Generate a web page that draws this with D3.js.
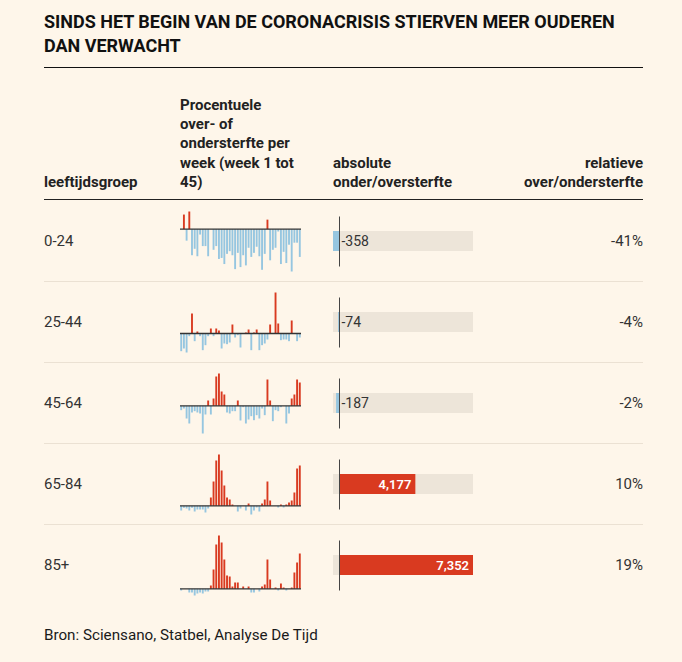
<!DOCTYPE html>
<html><head><meta charset="utf-8">
<script src="https://cdn.jsdelivr.net/npm/d3@7"></script>
<style>
html,body{margin:0;padding:0;background:#fef6ea;}
svg{display:block;font-family:Roboto,"Noto Sans",sans-serif;}
</style></head>
<body><svg id="c" width="682" height="662"></svg>
<script>
const titleLines = ["SINDS HET BEGIN VAN DE CORONACRISIS STIERVEN MEER OUDEREN","DAN VERWACHT"];
const groups = ["0-24","25-44","45-64","65-84","85+"];
const weekly0_24 = [0,43,-34,52,-77,-58,-80,-16,-50,-50,-80,0,-61,-50,-88,-85,-103,-73,-65,-77,-118,-70,-112,-77,-107,-55,-82,-70,-52,-80,-120,-73,28,-92,-61,-55,-7,-103,-67,-100,-46,-125,-40,-40,-82];
const weekly25_44 = [-53,-45,-57,-8,60,-23,6,-8,-50,-35,-8,15,-8,15,9,-45,-30,-32,-27,27,-12,-5,-42,0,3,12,-50,3,12,-50,-35,-30,-18,27,0,123,30,-20,-18,-18,-23,39,0,-23,-12];
const weekly45_64 = [-13,-8,-38,-53,-20,-16,-20,-23,-83,-26,16,-26,22,88,97,43,34,-20,-23,-16,-16,16,-44,-4,-53,-41,-31,-43,-28,-38,-8,-28,79,16,-46,-13,-16,-4,0,-53,-23,22,34,79,70];
const weekly65_84 = [-14,-6,-8,-14,-6,-17,-11,-11,-11,-20,-8,25,73,136,154,106,61,25,19,4,0,-17,-8,0,-14,7,-26,-14,-5,-17,7,19,73,16,0,0,-5,4,-5,4,10,16,40,112,121];
const weekly85 = [-5,0,0,-11,-11,-20,-14,-11,-14,-8,-8,10,58,133,160,139,88,40,37,7,19,19,0,7,0,7,-11,-11,0,-8,7,13,88,28,0,4,-5,16,4,-5,0,4,49,79,106];
const absolute = [-358,-74,-187,4177,7352];
const relative = [-41,-4,-2,10,19];
const headers = {
  group: ["leeftijdsgroep"],
  weekly: ["Procentuele","over- of","ondersterfte per","week (week 1 tot","45)"],
  abs: ["absolute","onder/oversterfte"],
  rel: ["relatieve","over/ondersterfte"]
};
const source = "Bron: Sciensano, Statbel, Analyse De Tijd";

const weekly = [weekly0_24, weekly25_44, weekly45_64, weekly65_84, weekly85];
const rows = groups.map((g,i)=>({group:g, weekly:weekly[i], abs:absolute[i], rel:relative[i]}));

const RED = "#d93a20", BLUE = "#96c6e0", INK = "#222", BG2 = "#ede5d9";
const svg = d3.select("#c");
const L = 44, R = 643;

// Title
const tg = svg.append("g").attr("transform", `translate(${L},0)`);
const tt = tg.selectAll("text").data(titleLines).join("text")
  .attr("x",0).attr("y",(d,i)=>28+i*24)
  .attr("font-size",18).attr("font-weight",700).attr("fill","#111")
  .text(d=>d);
const w1 = tt.nodes()[0].getComputedTextLength();
const k = 571 / w1;
tt.attr("transform", `scale(${k},1)`);

svg.append("line").attr("x1",L).attr("x2",R).attr("y1",67.5).attr("y2",67.5)
  .attr("stroke","#111").attr("stroke-width",1);

// headers
function hdr(lines, x, anchor){
  const base = 187 - (lines.length-1)*19.3;
  svg.append("g").selectAll("text").data(lines).join("text")
    .attr("x",x).attr("y",(d,i)=>base+i*19.3)
    .attr("text-anchor",anchor)
    .attr("font-size",15).attr("font-weight",700).attr("fill",INK)
    .text(d=>d);
}
hdr(headers.group, L, "start");
hdr(headers.weekly, 180, "start");
hdr(headers.abs, 333, "start");
hdr(headers.rel, R, "end");
svg.append("line").attr("x1",L).attr("x2",R).attr("y1",199.5).attr("y2",199.5)
  .attr("stroke","#222").attr("stroke-width",1.2);

// rows
const yRow = d3.scaleBand().domain(groups).range([200, 605]);
const cy = g => yRow(g) + yRow.bandwidth()/2;

// separators
svg.append("g").selectAll("line").data(groups.slice(0,-1)).join("line")
  .attr("x1",L).attr("x2",R)
  .attr("y1",g=>yRow(g)+yRow.bandwidth()+0.5).attr("y2",g=>yRow(g)+yRow.bandwidth()+0.5)
  .attr("stroke","#ebe1d3").attr("stroke-width",1);

// row labels
svg.append("g").selectAll("text").data(rows).join("text")
  .attr("x",L).attr("y",d=>cy(d.group)+5)
  .attr("font-size",15).attr("fill","#333").text(d=>d.group);

// sparklines
const xw = d3.scaleBand().domain(d3.range(45)).range([180, 301]).paddingInner(0.3).paddingOuter(0.1);
rows.forEach(r=>{
  const c = cy(r.group);
  const y = d3.scaleLinear().domain(d3.extent(r.weekly)).range([c+31, c-29]);
  const g = svg.append("g");
  g.selectAll("rect").data(r.weekly).join("rect")
    .attr("x",(d,i)=>xw(i)).attr("width",xw.bandwidth())
    .attr("y",d=>Math.min(y(d),y(0))).attr("height",d=>Math.abs(y(d)-y(0)))
    .attr("fill",d=>d>=0?RED:BLUE);
  g.append("line").attr("x1",180).attr("x2",301).attr("y1",y(0)).attr("y2",y(0))
    .attr("stroke","#333").attr("stroke-width",1.3);
});

// absolute bars
const xa = d3.scaleLinear().domain(d3.extent(absolute)).range([333, 473]);
const ag = svg.append("g");
ag.selectAll("rect.bg").data(rows).join("rect").attr("class","bg")
  .attr("x",xa.range()[0]).attr("width",xa.range()[1]-xa.range()[0])
  .attr("y",d=>cy(d.group)-9.5).attr("height",20).attr("fill",BG2);
ag.selectAll("rect.v").data(rows).join("rect").attr("class","v")
  .attr("x",d=>Math.min(xa(d.abs),xa(0))).attr("width",d=>Math.abs(xa(d.abs)-xa(0)))
  .attr("y",d=>cy(d.group)-9.5).attr("height",20).attr("fill",d=>d.abs>=0?RED:BLUE);
ag.selectAll("line").data(rows).join("line")
  .attr("x1",xa(0)).attr("x2",xa(0)).attr("y1",d=>cy(d.group)-24).attr("y2",d=>cy(d.group)+26)
  .attr("stroke","#444").attr("stroke-width",1);
const fmt = d3.format(",");
ag.selectAll("text").data(rows).join("text")
  .attr("x",d=>d.abs>=0? xa(d.abs)-4 : xa(0)+2)
  .attr("y",d=>cy(d.group)+5)
  .attr("text-anchor",d=>d.abs>=0?"end":"start")
  .attr("font-size",d=>d.abs>=0?13:14)
  .attr("font-weight",d=>d.abs>=0?600:400)
  .attr("fill",d=>d.abs>=0?"#fff":"#333")
  .text(d=>d.abs<0? "-"+fmt(-d.abs) : fmt(d.abs));

// relative
svg.append("g").selectAll("text").data(rows).join("text")
  .attr("x",R).attr("y",d=>cy(d.group)+5).attr("text-anchor","end")
  .attr("font-size",15).attr("fill","#333")
  .text(d=>(d.rel<0?"-":"")+Math.abs(d.rel)+"%");

// source
svg.append("text").attr("x",L).attr("y",640).attr("font-size",15.2).attr("fill","#1a1a1a").text(source);
</script></body></html>
